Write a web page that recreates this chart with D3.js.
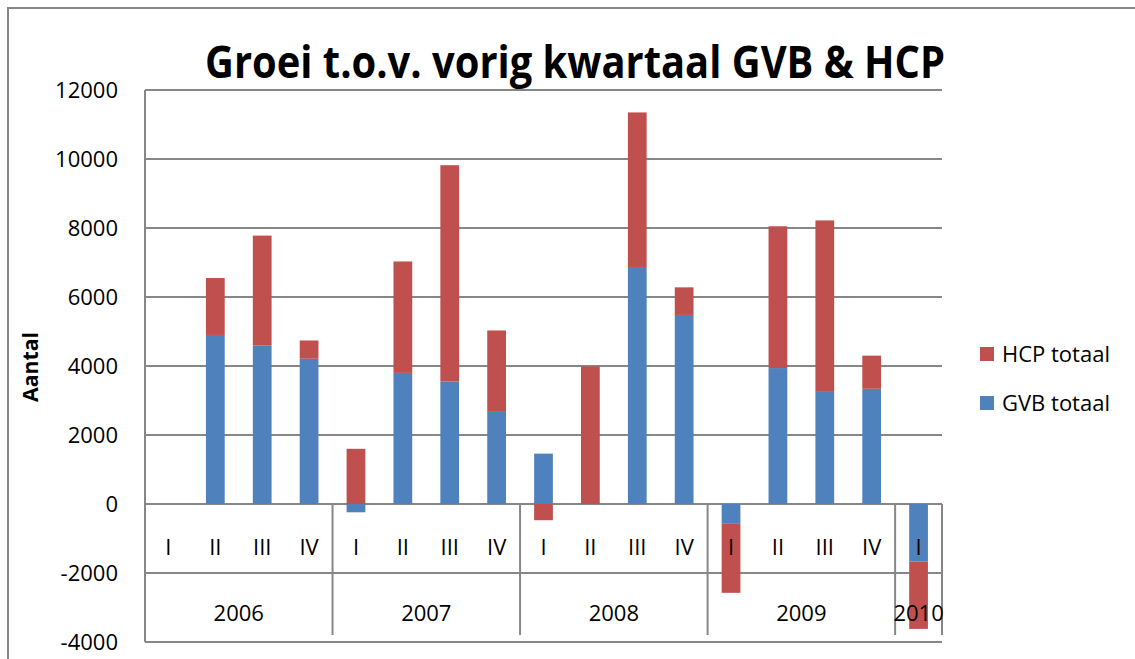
<!DOCTYPE html>
<html>
<head>
<meta charset="utf-8">
<script src="https://cdn.jsdelivr.net/npm/d3@7"></script>
<style>
  html, body { margin: 0; padding: 0; background: #fff; }
  svg { display: block; }
  text { font-family: "Open Sans", "Liberation Sans", sans-serif; fill: #000; }
</style>
</head>
<body>
<svg id="chart" width="1135" height="659"></svg>
<script>
// ---- data ----
const years = ["2006", "2007", "2008", "2009", "2010"];
const quartersPerYear = [4, 4, 4, 4, 1];
const quarterLabels = ["I", "II", "III", "IV"];
const seriesNames = ["GVB totaal", "HCP totaal"];
const gvbValues = [0, 4900, 4590, 4210, -240, 3800, 3550, 2670, 1460, 0, 6870, 5480, -575, 3940, 3250, 3340, -1670];
const hcpValues = [0, 1650, 3190, 530, 1600, 3230, 6270, 2360, -470, 3990, 4480, 800, -2000, 4110, 4970, 960, -1950];
const yTicks = [-4000, -2000, 0, 2000, 4000, 6000, 8000, 10000, 12000];
const title = "Groei t.o.v. vorig kwartaal GVB & HCP";
const yTitle = "Aantal";

// ---- build category table ----
const cats = [];
years.forEach((yr, yi) => {
  for (let q = 0; q < quartersPerYear[yi]; q++) {
    cats.push({ id: yr + "-" + quarterLabels[q], year: yr, q: quarterLabels[q] });
  }
});
const rows = cats.map((c, i) => ({ id: c.id, "GVB totaal": gvbValues[i], "HCP totaal": hcpValues[i] }));

const colors = { "GVB totaal": "#4F81BD", "HCP totaal": "#C0504D" };
const gridColor = "#878787";

const svg = d3.select("#chart");
const L = 145, R = 942, T = 90, B = 642;

// outer border
svg.append("rect").attr("x", 8).attr("y", 8).attr("width", 1200).attr("height", 700)
  .attr("fill", "none").attr("stroke", gridColor).attr("stroke-width", 2);

const x = d3.scaleBand().domain(cats.map(c => c.id)).range([L, R]).paddingInner(0.6).paddingOuter(0.3);
const y = d3.scaleLinear().domain([-4000, 12000]).range([B, T]);

// gridlines
svg.append("g").selectAll("line").data(yTicks).join("line")
  .attr("x1", L).attr("x2", R)
  .attr("y1", d => y(d)).attr("y2", d => y(d))
  .attr("stroke", gridColor).attr("stroke-width", 2);

// y axis line
svg.append("line").attr("x1", L).attr("x2", L).attr("y1", T).attr("y2", B)
  .attr("stroke", gridColor).attr("stroke-width", 2);

// y tick labels
svg.append("g").selectAll("text").data(yTicks).join("text")
  .attr("x", 118).attr("y", d => y(d)).attr("dy", "0.36em")
  .attr("text-anchor", "end").attr("font-size", 22)
  .text(d => d);

// stacked bars
const stack = d3.stack().keys(seriesNames).offset(d3.stackOffsetDiverging);
const stacked = stack(rows);
svg.append("g").selectAll("g").data(stacked).join("g")
  .attr("fill", d => colors[d.key])
  .selectAll("rect").data(d => d).join("rect")
  .attr("x", d => x(d.data.id))
  .attr("width", x.bandwidth())
  .attr("y", d => y(Math.max(d[0], d[1])))
  .attr("height", d => Math.abs(y(d[0]) - y(d[1])));

// category axis: year separators
const step = x.step();
const bounds = [0];
quartersPerYear.reduce((acc, n) => { bounds.push(acc + n); return acc + n; }, 0);
svg.append("g").selectAll("line").data(bounds).join("line")
  .attr("x1", i => L + i * step).attr("x2", i => L + i * step)
  .attr("y1", y(0)).attr("y2", 635)
  .attr("stroke", gridColor).attr("stroke-width", 2);

// quarter labels
svg.append("g").selectAll("text").data(cats).join("text")
  .attr("x", c => x(c.id) + x.bandwidth() / 2).attr("y", 547).attr("dy", "0.36em")
  .attr("text-anchor", "middle").attr("font-size", 22)
  .text(c => c.q);

// year labels
svg.append("g").selectAll("text").data(years).join("text")
  .attr("x", (yr, i) => L + (bounds[i] + bounds[i + 1]) / 2 * step)
  .attr("y", 613).attr("dy", "0.36em")
  .attr("text-anchor", "middle").attr("font-size", 22)
  .text(d => d);

// title
svg.append("text").attr("x", 575).attr("y", 78)
  .attr("text-anchor", "middle").attr("font-size", 44).attr("font-weight", "bold")
  .attr("textLength", 740).attr("lengthAdjust", "spacingAndGlyphs")
  .text(title);

// y axis title
svg.append("text").attr("transform", "translate(38,367) rotate(-90)")
  .attr("text-anchor", "middle").attr("font-size", 21).attr("font-weight", "bold")
  .attr("textLength", 70).attr("lengthAdjust", "spacingAndGlyphs")
  .text(yTitle);

// legend (HCP on top)
const legendItems = ["HCP totaal", "GVB totaal"];
const lg = svg.append("g").selectAll("g").data(legendItems).join("g")
  .attr("transform", (d, i) => `translate(980,${347 + i * 49})`);
lg.append("rect").attr("width", 14).attr("height", 14).attr("fill", d => colors[d]);
lg.append("text").attr("x", 22).attr("y", 7).attr("dy", "0.36em").attr("font-size", 22)
  .text(d => d);
</script>
</body>
</html>
